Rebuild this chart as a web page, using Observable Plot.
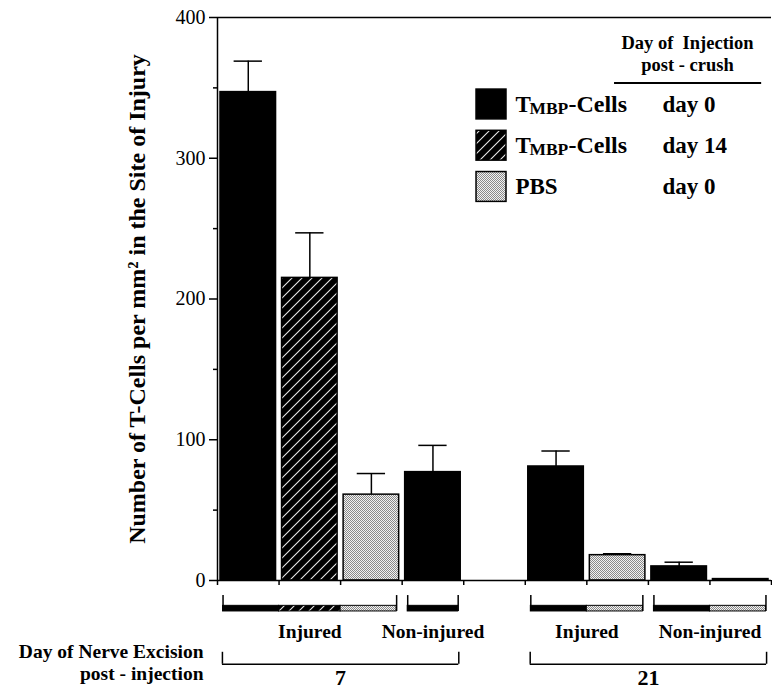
<!DOCTYPE html>
<html>
<head>
<meta charset="utf-8">
<script src="https://cdn.jsdelivr.net/npm/d3@7"></script>
<script src="https://cdn.jsdelivr.net/npm/@observablehq/plot@0.6"></script>
<style>
  html, body { margin: 0; padding: 0; background: #fff; }
  #chart svg { display: block; }
</style>
</head>
<body>
<div id="chart"></div>
<script>
// ---- data ----
const slotIndex   = [0, 1, 2, 3, 5, 6, 7, 8];
const barSeries   = ["T0", "T14", "PBS", "T0", "T0", "PBS", "T0", "PBS"];
const barMeans    = [347, 215, 61, 77, 81, 18, 10, 1];
const barErrTops  = [369, 247, 76, 96, 92, 19, 13, 1];

const groupLabels = ["Injured", "Non-injured", "Injured", "Non-injured"];
const groupStart  = [0, 3, 5, 7];
const groupEnd    = [3, 4, 7, 9];

const dayLabels   = ["7", "21"];
const dayStart    = [0, 5];
const dayEnd      = [4, 9];

const yTicks      = [0, 100, 200, 300, 400];
const yMinorTicks = [50, 150, 250, 350];
const slotTicks   = [0, 1, 2, 3, 4, 5, 6, 7, 8, 9];

const legendSeries = ["T0", "T14", "PBS"];
const legendMain   = ["T", "T", "PBS"];
const legendSub    = ["MBP", "MBP", ""];
const legendRest   = ["-Cells", "-Cells", ""];
const legendDays   = ["day 0", "day 14", "day 0"];

const yTitle = "Number of T-Cells per mm\u00B2 in the Site of Injury";
const xTitle1 = "Day of Nerve Excision";
const xTitle2 = "post - injection";
const legendHead1 = "Day of  Injection";
const legendHead2 = "post - crush";

// ---- derived tables ----
const fills = { T0: "black", T14: "url(#hatch)", PBS: "url(#pbs)" };
const bars = slotIndex.map((s, i) => ({ slot: s, series: barSeries[i], mean: barMeans[i], top: barErrTops[i] }));
const groups = groupLabels.map((l, i) => ({ label: l, start: groupStart[i], end: groupEnd[i] }));
const days = dayLabels.map((l, i) => ({ label: l, start: dayStart[i], end: dayEnd[i] }));
const gin = 0.09;
const strips = bars.map(b => {
  const g = groups.find(g => b.slot >= g.start && b.slot < g.end);
  return { ...b, x1: Math.max(b.slot, g.start + gin), x2: Math.min(b.slot + 1, g.end - gin) };
});
const legend = legendSeries.map((s, i) => ({ series: s, main: legendMain[i], sub: legendSub[i], rest: legendRest[i], day: legendDays[i], row: i }));
const legRowY = r => 338.2 - r * 29.3;

const FONT = "'Liberation Serif', 'Times New Roman', serif";

const defs = () => {
  const d = d3.create("svg:defs");
  const h = d.append("pattern").attr("id", "hatch").attr("patternUnits", "userSpaceOnUse")
    .attr("width", 10).attr("height", 10);
  h.append("rect").attr("width", 10).attr("height", 10).attr("fill", "black");
  h.append("path").attr("d", "M0,10 L10,0 M-2,2 L2,-2 M8,12 L12,8")
    .attr("stroke", "#e8e8e8").attr("stroke-width", 1.1);
  const p = d.append("pattern").attr("id", "pbs").attr("patternUnits", "userSpaceOnUse")
    .attr("width", 2).attr("height", 2);
  p.append("rect").attr("width", 2).attr("height", 2).attr("fill", "#f2f2f2");
  p.append("rect").attr("width", 1).attr("height", 1).attr("fill", "#8a8a8a");
  p.append("rect").attr("x", 1).attr("y", 1).attr("width", 1).attr("height", 1).attr("fill", "#8a8a8a");
  return d.node();
};

const barMarks = legendSeries.map(s =>
  Plot.rectY(bars.filter(b => b.series === s), {
    x1: "slot", x2: d => d.slot + 1, y1: 0, y2: "mean",
    insetLeft: 3, insetRight: 3, fill: fills[s], stroke: "black", strokeWidth: 1.5
  })
);
const stripMarks = legendSeries.map(s =>
  Plot.rectY(strips.filter(b => b.series === s), {
    x1: "x1", x2: "x2", y1: -18, y2: -22, fill: fills[s], stroke: "black", strokeWidth: 1
  })
);
const legendBoxes = legendSeries.map(s =>
  Plot.rect(legend.filter(d => d.series === s), {
    x1: 4.208, x2: 4.695, y1: d => legRowY(d.row) - 10.6, y2: d => legRowY(d.row) + 10.6,
    fill: fills[s], stroke: "black", strokeWidth: 1.5
  })
);

const chart = Plot.plot({
  width: 772,
  height: 690,
  marginLeft: 217,
  marginRight: 1,
  marginTop: 17,
  marginBottom: 110,
  style: { fontFamily: FONT, background: "white", color: "black", overflow: "visible" },
  x: { domain: [0, 9], axis: null },
  y: { domain: [0, 400], axis: null },
  marks: [
    defs,
    ...barMarks,
    // error bars
    Plot.ruleX(bars.filter(b => b.top > b.mean), { x: d => d.slot + 0.5, y1: "mean", y2: "top", strokeWidth: 1.5 }),
    Plot.ruleY(bars.filter(b => b.top > b.mean), { y: "top", x1: d => d.slot + 0.27, x2: d => d.slot + 0.73, strokeWidth: 1.5 }),
    // frame lines
    Plot.ruleX([0], { y1: 0, y2: 400, strokeWidth: 1.5 }),
    Plot.ruleY([0], { x1: 0, x2: 9, strokeWidth: 1.5 }),
    Plot.ruleY([400], { x1: 0, x2: 9, strokeWidth: 1.5 }),
    Plot.axisY(yTicks, { tickSize: 8, tickPadding: 4, fontSize: 20, label: null, strokeWidth: 1.5 }),
    Plot.axisY(yMinorTicks, { tickSize: 4, tickFormat: () => "", label: null, strokeWidth: 1.5 }),
    Plot.axisX(slotTicks, { tickSize: 5, tickFormat: () => "", label: null, strokeWidth: 1.5 }),
    // axis title
    Plot.text([yTitle], { frameAnchor: "left", dx: -80, rotate: -90, textAnchor: "middle", fontSize: 24, fontWeight: "bold" }),
    // group brackets and strips
    ...stripMarks,
    Plot.ruleX(groups, { x: d => d.start + gin, y1: -10.7, y2: -22, strokeWidth: 1.5 }),
    Plot.ruleX(groups, { x: d => d.end - gin, y1: -10.7, y2: -22, strokeWidth: 1.5 }),
    Plot.text(groups, { x: d => (d.start + d.end) / 2, y: -36.2, text: "label", fontSize: 19.5, fontWeight: "bold" }),
    // day brackets
    Plot.ruleX(days, { x: d => d.start + 0.08, y1: -51, y2: -59.5, strokeWidth: 1.5 }),
    Plot.ruleX(days, { x: d => d.end - 0.08, y1: -51, y2: -59.5, strokeWidth: 1.5 }),
    Plot.ruleY(days, { y: -59.5, x1: d => d.start + 0.08, x2: d => d.end - 0.08, strokeWidth: 1.5 }),
    Plot.text(days, { x: d => (d.start + d.end) / 2, y: -69.4, text: "label", fontSize: 22, fontWeight: "bold" }),
    Plot.text([xTitle1], { frameAnchor: "bottom-left", dx: -14, dy: 77, textAnchor: "end", fontSize: 19.5, fontWeight: "bold" }),
    Plot.text([xTitle2], { frameAnchor: "bottom-left", dx: -14, dy: 99, textAnchor: "end", fontSize: 19.5, fontWeight: "bold" }),
    // legend
    ...legendBoxes,
    Plot.text(legend, { x: 4.84, y: d => legRowY(d.row), text: "main", textAnchor: "start", fontSize: 23, fontWeight: "bold" }),
    Plot.text(legend, { x: 4.84, y: d => legRowY(d.row), text: "sub", dx: 14, dy: 4, textAnchor: "start", fontSize: 17.5, fontWeight: "bold" }),
    Plot.text(legend, { x: 4.84, y: d => legRowY(d.row), text: "rest", dx: 53, textAnchor: "start", fontSize: 24, fontWeight: "bold" }),
    Plot.text(legend, { x: 7.23, y: d => legRowY(d.row), text: "day", textAnchor: "start", fontSize: 23, fontWeight: "bold" }),
    Plot.text([legendHead1], { x: 7.635, y: 381.5, fontSize: 18.5, fontWeight: "bold" }),
    Plot.text([legendHead2], { x: 7.635, y: 366.5, fontSize: 18.5, fontWeight: "bold" }),
    Plot.ruleY([353.4], { x1: 6.45, x2: 8.84, strokeWidth: 2 })
  ]
});

document.getElementById("chart").appendChild(chart);
</script>
</body>
</html>
